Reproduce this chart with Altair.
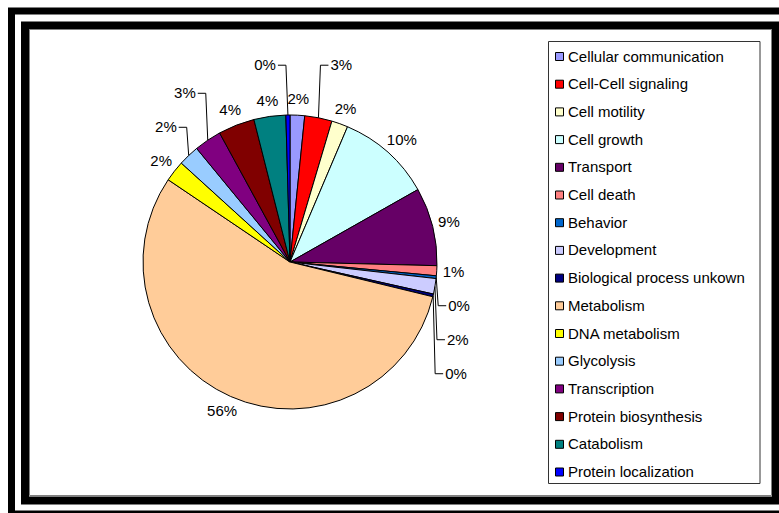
import math
import altair as alt
import pandas as pd

# Biological process categories, in legend / slice order (clockwise from 12 o'clock)
categories = [
    "Cellular communication", "Cell-Cell signaling", "Cell motility", "Cell growth",
    "Transport", "Cell death", "Behavior", "Development", "Biological process unkown",
    "Metabolism", "DNA metabolism", "Glycolysis", "Transcription",
    "Protein biosynthesis", "Catabolism", "Protein localization",
]
# share of genes in each category (%)
shares = [1.6, 3.0, 1.8, 10.4, 8.6, 1.1, 0.3, 1.7, 0.3,
          55.65, 2.3, 2.3, 3.0, 4.0, 3.5, 0.45]
colors = [
    "#9999FF", "#FF0000", "#FFFFCC", "#CCFFFF", "#660066", "#FF8080", "#0066CC", "#CCCCFF",
    "#000080", "#FFCC99", "#FFFF00", "#99CCFF", "#800080", "#800000", "#008080", "#0000FF",
]

FONT = "Liberation Sans"
FS = 15
CX, CY, R = 290, 262, 147          # pie centre and radius (px)
GAP, HALF_H, ROW = 6, 10, 34
PAD_SAME, PAD_OTHER = 12, 4

total = sum(shares)


def text_width(s):
    return sum(8.34 if ch.isdigit() else 13.3 for ch in s)


# ---- data-label layout: radial placement, then push colliding labels apart ----
labels = []
acc = 0.0
for i, (name, v) in enumerate(zip(categories, shares)):
    a = (acc + v / 2) / total * 2 * math.pi
    acc += v
    s, c = math.sin(a), math.cos(a)
    txt = f"{math.floor(100 * v / total + 0.5)}%"
    w = text_width(txt)
    labels.append(dict(
        name=name, angle=a, s=s, c=c, label=txt, w=w,
        rx=CX + R * s, ry=CY - R * c,
        lx=CX + (R + GAP) * s + w / 2 * s,
        ly=CY - (R + GAP) * c - HALF_H * c,
        moved=False,
    ))


def side(lab):
    return 1 if lab["angle"] < math.pi else -1


def overlaps(a, b):
    pad = PAD_SAME if side(a) == side(b) else PAD_OTHER
    return (abs(a["lx"] - b["lx"]) < (a["w"] + b["w"]) / 2 + pad
            and abs(a["ly"] - b["ly"]) < ROW)


q = math.pi / 2
groups = [
    (sorted([l for l in labels if l["angle"] < q], key=lambda l: l["angle"]), -1),
    (sorted([l for l in labels if q <= l["angle"] < 2 * q], key=lambda l: l["angle"]), 1),
    (sorted([l for l in labels if 2 * q <= l["angle"] < 3 * q], key=lambda l: -l["angle"]), 1),
    (sorted([l for l in labels if l["angle"] >= 3 * q], key=lambda l: l["angle"]), -1),
]
placed = []
for members, direction in groups:
    for lab in members:
        while True:
            hits = [p for p in placed if overlaps(lab, p)]
            if not hits:
                break
            lab["moved"] = True
            if direction < 0:
                lab["ly"] = min(p["ly"] for p in hits) - ROW
            else:
                lab["ly"] = max(p["ly"] for p in hits) + ROW
            if side(lab) > 0:
                lab["lx"] = max(lab["lx"], lab["rx"] + 12 + lab["w"] / 2)
            else:
                lab["lx"] = min(lab["lx"], lab["rx"] - 12 - lab["w"] / 2)
        placed.append(lab)

label_df = pd.DataFrame([{k: l[k] for k in ("name", "label", "lx", "ly")} for l in labels])

leader_rows = []
for l in labels:
    if not l["moved"]:
        continue
    sd = side(l)
    edge = l["lx"] - sd * (l["w"] / 2 + 2)
    elbow = edge - sd * 8
    for seq, (x, y) in enumerate([(l["rx"], l["ry"]), (elbow, l["ly"]), (edge, l["ly"])]):
        leader_rows.append(dict(name=l["name"], seq=seq, x=x, y=y))
leader_df = pd.DataFrame(leader_rows)

pie_df = pd.DataFrame({"name": categories, "share": shares, "idx": list(range(len(categories)))})

# ---- pie ----
pie = alt.Chart(pie_df).mark_arc(outerRadius=R, stroke="black", strokeWidth=1).encode(
    theta=alt.Theta("share:Q", stack=True),
    order=alt.Order("idx:Q"),
    x=alt.value(CX),
    y=alt.value(CY),
    color=alt.Color(
        "name:N",
        scale=alt.Scale(domain=categories, range=colors),
        legend=alt.Legend(
            title=None, orient="none", legendX=552, legendY=49, padding=0,
            symbolType="square", symbolSize=64, symbolStrokeColor="black",
            symbolStrokeWidth=1, symbolOpacity=1,
            labelFont=FONT, labelFontSize=FS, labelColor="black", labelLimit=300,
            labelOffset=1, rowPadding=11.7,
        ),
    ),
)

leaders = alt.Chart(leader_df).mark_line(color="black", strokeWidth=1).encode(
    x=alt.X("x:Q", scale=None, axis=None),
    y=alt.Y("y:Q", scale=None, axis=None),
    detail="name:N",
    order="seq:Q",
)

text = alt.Chart(label_df).mark_text(
    font=FONT, fontSize=FS, color="black", align="center", baseline="middle"
).encode(
    x=alt.X("lx:Q", scale=None, axis=None),
    y=alt.Y("ly:Q", scale=None, axis=None),
    text="label:N",
)

# ---- frames ----
one = alt.Data(values=[{}])
outer = alt.Chart(one).mark_rect(filled=False, stroke="black", strokeWidth=7).encode(
    x=alt.value(11.5), x2=alt.value(790), y=alt.value(11), y2=alt.value(514))
inner = alt.Chart(one).mark_rect(filled=False, stroke="black", strokeWidth=8).encode(
    x=alt.value(25), x2=alt.value(776), y=alt.value(25.5), y2=alt.value(500.5))
inner_line = alt.Chart(one).mark_rect(filled=False, stroke="#808080", strokeWidth=1).encode(
    x=alt.value(29.5), x2=alt.value(771.5), y=alt.value(29.5), y2=alt.value(495.5))
legend_box = alt.Chart(one).mark_rect(filled=False, stroke="#333333", strokeWidth=1).encode(
    x=alt.value(548.5), x2=alt.value(760), y=alt.value(41.5), y2=alt.value(483.5))

chart = alt.layer(outer, inner, inner_line, legend_box, pie, leaders, text).properties(
    width=779, height=513,
    autosize=alt.AutoSizeParams(type="none"),
    padding=0,
    background="white",
).configure_view(stroke=None)

chart.save("out.html", embed_options={"renderer": "svg", "actions": False})
